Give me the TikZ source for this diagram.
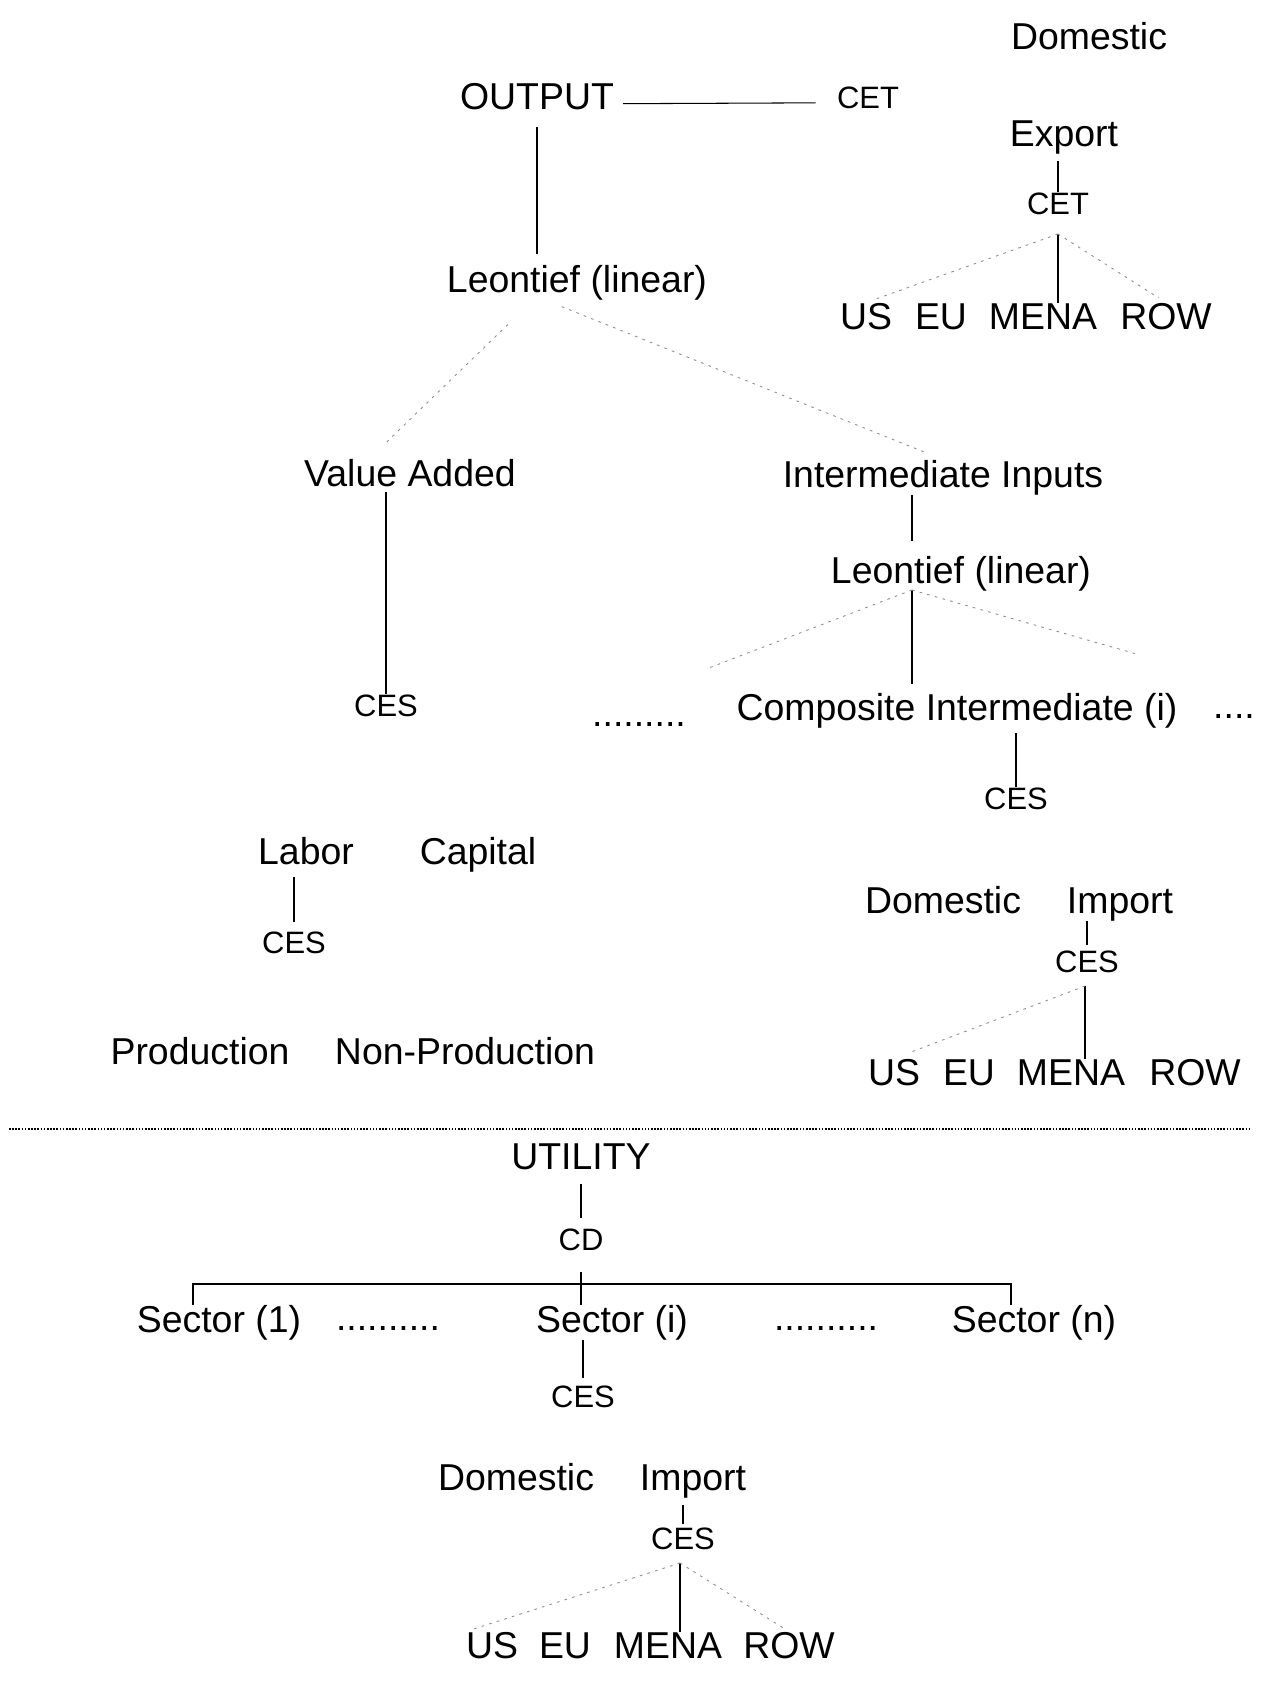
\documentclass[tikz,border=0pt]{standalone}
\usepackage{fontspec}
\setmainfont{Liberation Sans}
\newcommand{\bigfont}{\fontsize{21.3pt}{25pt}\selectfont}
\newcommand{\smallfont}{\fontsize{17.6pt}{21pt}\selectfont}
\begin{document}
\begin{tikzpicture}[x=0.02cm, y=-0.02cm]
  % Define styles for labels and links
  \tikzset{
    big node/.style={font=\bigfont, inner sep=0pt, anchor=base},
    small node/.style={font=\smallfont, inner sep=0pt, anchor=base},
    link/.style={black, line width=0.6pt},
    faint link/.style={black!45, line width=0.5pt, dash pattern=on 1.5pt off 3pt},
    sep line/.style={black, line width=1pt, dash pattern=on 0.9pt off 0.9pt}
  }
  \useasboundingbox (0,0) rectangle (1262,1681);

  % Output and exports
  \node[big node] (domtop) at (1089,49) {Domestic};
  \node[big node] (output) at (537,109) {OUTPUT};
  \node[small node] (cettop) at (868,108) {CET};
  \node[big node] (exptop) at (1064,146) {Export};
  \node[small node] (cetexp) at (1058,214) {CET};
  \node[big node] (ustop) at (866,329) {US};
  \node[big node] (eutop) at (941,329) {EU};
  \node[big node] (menatop) at (1043,329) {MENA};
  \node[big node] (rowtop) at (1166,329) {ROW};
  \node[big node] (leontop) at (577,292) {Leontief (linear)};

  % Value added and intermediate inputs
  \node[big node] (valadd) at (410,486) {Value Added};
  \node[big node] (intinp) at (943,487) {Intermediate Inputs};
  \node[big node] (leonint) at (961,583) {Leontief (linear)};
  \node[small node] (cesva) at (386,716) {CES};
  \node[big node] (dotsl) at (639,726) {.........};
  \node[big node] (compint) at (957,720) {Composite Intermediate (i)};
  \node[big node] (dotsr) at (1234,718) {....};
  \node[small node] (cescomp) at (1016,809) {CES};

  % Factors
  \node[big node] (labor) at (306,864) {Labor};
  \node[big node] (capital) at (478,864) {Capital};
  \node[small node] (ceslab) at (294,953) {CES};
  \node[big node] (prod) at (200,1064) {Production};
  \node[big node] (nonprod) at (465,1064) {Non-Production};

  % Intermediate sourcing
  \node[big node] (domint) at (943,913) {Domestic};
  \node[big node] (impint) at (1120,913) {Import};
  \node[small node] (cesimp) at (1087,972) {CES};
  \node[big node] (usint) at (894,1085) {US};
  \node[big node] (euint) at (969,1085) {EU};
  \node[big node] (menaint) at (1071,1085) {MENA};
  \node[big node] (rowint) at (1195,1085) {ROW};

  % Utility
  \node[big node] (utility) at (581,1169) {UTILITY};
  \node[small node] (cd) at (581,1250) {CD};
  \node[big node] (sec1) at (219,1332) {Sector (1)};
  \node[big node] (dotsa) at (388,1330) {..........};
  \node[big node] (seci) at (612,1332) {Sector (i)};
  \node[big node] (dotsb) at (826,1330) {..........};
  \node[big node] (secn) at (1034,1332) {Sector (n)};
  \node[small node] (cessec) at (583,1407) {CES};
  \node[big node] (domcons) at (516,1490) {Domestic};
  \node[big node] (impcons) at (693,1490) {Import};
  \node[small node] (cescons) at (683,1549) {CES};
  \node[big node] (uscons) at (492,1658) {US};
  \node[big node] (eucons) at (565,1658) {EU};
  \node[big node] (menacons) at (668,1658) {MENA};
  \node[big node] (rowcons) at (789,1658) {ROW};

  % Branch points
  \coordinate (fork1) at (1058,234);
  \coordinate (fork2) at (912,590);
  \coordinate (fork3) at (1085,986);
  \coordinate (fork4) at (680,1563);
  \coordinate (barl) at (193,1284);
  \coordinate (barr) at (1011,1284);
  \coordinate (sepl) at (9,1129);
  \coordinate (sepr) at (1249,1129);

  % Links
  \draw[link, shorten <=5pt, shorten >=12pt] ([yshift=3pt]output.base east) -- ([yshift=3pt]cettop.base west);
  \draw[link, shorten <=4pt] (exptop.south -| fork1) -- (cetexp.north -| fork1);
  \draw[link] (fork1) -- (menatop.north -| fork1);
  \draw[faint link, shorten >=5pt] (fork1) -- (ustop.north);
  \draw[faint link, shorten >=5pt] (fork1) -- (rowtop.north);
  \draw[link, shorten <=10pt, shorten >=6pt] (output.south) -- (output.south |- leontop.north);
  \draw[faint link, shorten <=20pt, shorten >=12pt] ([xshift=-25pt]leontop.south) -- ([xshift=-23pt]valadd.north);
  \draw[faint link, shorten <=10pt, shorten >=10pt] ([xshift=-18pt]leontop.south) -- (intinp.north);
  \draw[link, shorten <=3pt] (valadd.south -| cesva.north) -- (cesva.north);
  \draw[link, shorten >=8pt] (intinp.south -| fork2) -- (leonint.north -| fork2);
  \draw[link, shorten >=5pt] (fork2) -- (compint.north -| fork2);
  \draw[faint link, shorten >=12pt] (fork2) -- ([shift={(0,-45)}]dotsl.north east);
  \draw[faint link, shorten >=8pt] (fork2) -- ([shift={(-60,-55)}]dotsr.north west);
  \draw[link, shorten <=3pt] (compint.south -| cescomp.north) -- (cescomp.north);
  \draw[link, shorten <=7pt, shorten >=5pt] (labor.south -| ceslab.north) -- (ceslab.north);
  \draw[link, shorten >=3pt] (impint.south -| cesimp.north) -- (cesimp.north);
  \draw[link] (fork3) -- (menaint.north -| fork3);
  \draw[faint link, shorten >=10pt] (fork3) -- (usint.north);
  \draw[sep line] (sepl) -- (sepr);
  \draw[link, shorten <=8pt, shorten >=6pt] (utility.south) -- (cd.north);
  \draw[link, shorten <=12pt] (cd.south) -- (cd.south |- seci.north);
  \draw[link] (sec1.north -| barl) -- (barl) -- (barr) -- (secn.north -| barr);
  \draw[link, shorten >=4pt] (seci.south -| cessec.north) -- (cessec.north);
  \draw[link, shorten <=4pt, shorten >=2pt] (impcons.south -| cescons.north) -- (cescons.north);
  \draw[link] (fork4) -- (menacons.north -| fork4);
  \draw[faint link, shorten >=3pt] (fork4) -- (uscons.north west);
  \draw[faint link, shorten >=3pt] (fork4) -- (rowcons.north);
\end{tikzpicture}
\end{document}
